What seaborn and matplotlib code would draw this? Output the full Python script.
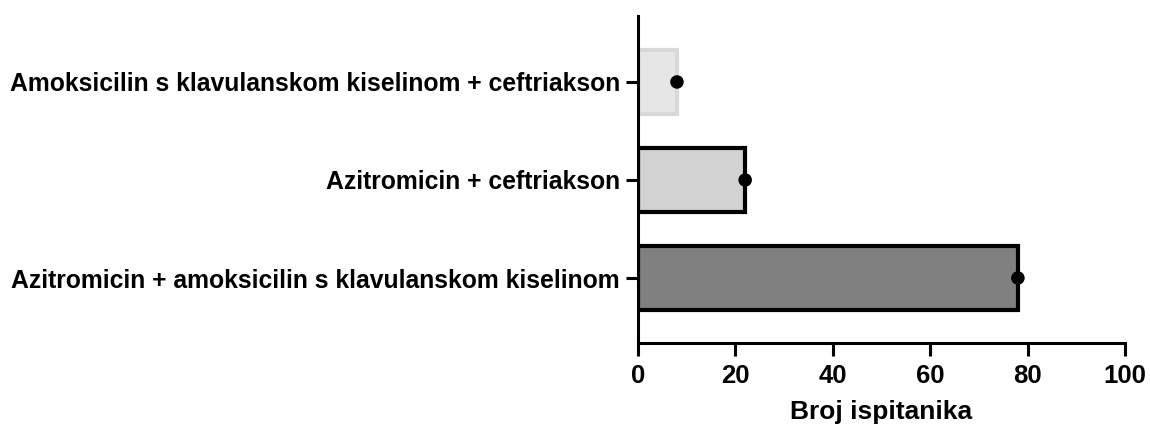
import numpy as np
import matplotlib
matplotlib.use("Agg")
import matplotlib.pyplot as plt
import seaborn as sns
import pandas as pd

# data
terapija = ["Amoksicilin s klavulanskom kiselinom + ceftriakson",
            "Azitromicin + ceftriakson",
            "Azitromicin + amoksicilin s klavulanskom kiselinom"]
broj = [8, 22, 78]
boje = ["#e6e6e6", "#d2d2d2", "#808080"]
rubovi = ["#d8d8d8", "black", "black"]

sns.set_style("ticks")
plt.rcParams['font.family'] = ['Liberation Sans', 'DejaVu Sans']
plt.rcParams['font.weight'] = 'bold'
plt.rcParams['text.color'] = 'black'
plt.rcParams['xtick.color'] = 'black'
plt.rcParams['ytick.color'] = 'black'

df = pd.DataFrame({"Terapija": terapija, "Broj": broj})

fig = plt.figure(figsize=(11.5, 4.28), dpi=100)
ax = fig.add_axes([0.5548, 0.1986, 0.9783 - 0.5548, 0.9626 - 0.1986])

sns.barplot(data=df, x="Broj", y="Terapija", hue="Terapija", palette=boje,
            legend=False, width=0.66, ax=ax, orient="h")
for patch, ec in zip(ax.patches, rubovi):
    patch.set_edgecolor(ec)
    patch.set_linewidth(3)

sns.scatterplot(data=df, x="Broj", y="Terapija", color="black", s=95,
                edgecolor="none", ax=ax, zorder=5, clip_on=False)

ax.set_xlim(0, 100)
ax.set_ylim(2.663, -0.673)
ax.set_xticks([0, 20, 40, 60, 80, 100])
ax.set_xlabel("Broj ispitanika", fontsize=19, fontweight="bold", labelpad=9,
              color="black")
ax.set_ylabel("")
ax.tick_params(axis="both", width=2.2, length=9, direction="out", pad=4)
ax.tick_params(axis="x", labelsize=18.5, pad=6)
ax.tick_params(axis="y", labelsize=17.8)
for lab in ax.get_xticklabels() + ax.get_yticklabels():
    lab.set_fontweight("bold")
sns.despine(ax=ax)
for side in ["left", "bottom"]:
    ax.spines[side].set_linewidth(2.2)
    ax.spines[side].set_color("black")

fig.savefig("out.png", dpi=100)
